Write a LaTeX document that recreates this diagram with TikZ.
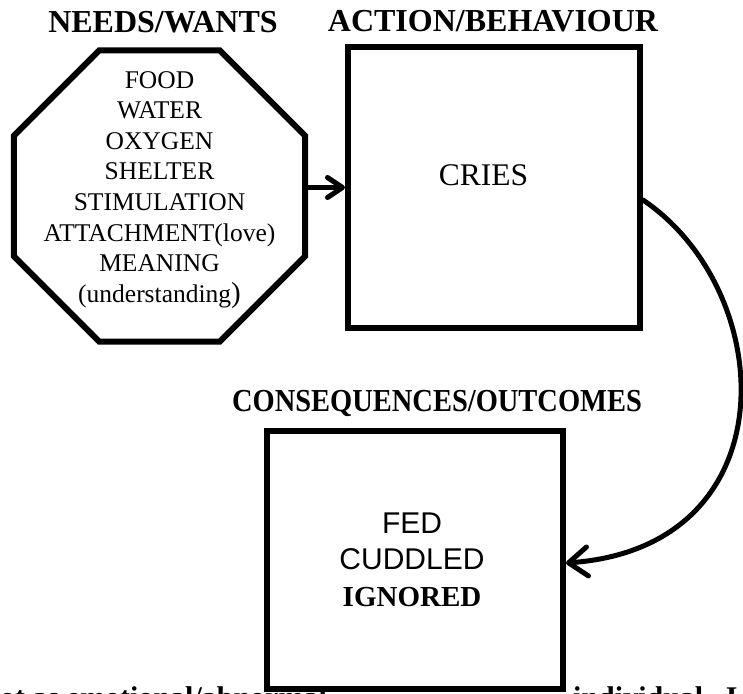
\documentclass[tikz,border=0pt]{standalone}
\usepackage{fontspec}
\usepackage{graphicx}
\setmainfont{Liberation Serif}
\newfontfamily\arialfont{Liberation Sans}
\usetikzlibrary{shapes.geometric,arrows.meta,calc}

\begin{document}
\begin{tikzpicture}[x=1pt,y=-1pt,
  heading/.style={font=\fontsize{32}{38}\selectfont\bfseries, inner sep=0pt, anchor=base},
  footline/.style={font=\fontsize{30}{36}\selectfont\bfseries, inner sep=0pt, anchor=base west},
  panel/.style={draw, line width=6pt, fill=white, inner sep=0pt},
  linksmall/.style={line width=5pt, line cap=round,
    -{Straight Barb[length=15pt,width=20pt,round]}},
  linkbig/.style={line width=5pt, line cap=round,
    -{Straight Barb[length=19pt,width=29pt,round]}},
]
\useasboundingbox[fill=white] (0,0) rectangle (743,693);

% running text along the bottom edge, mostly hidden by the outcome box
\begin{scope}
  \clip (0,0) rectangle (743,693);
  \node[footline] (footleft) at (-16.7,707) {not as emotional/abnormal};
  \node[footline] (footright) at (573,707) {individual.\ \ I};
\end{scope}

% headings
\node[heading] (needshead) at (163,33) {NEEDS/WANTS};
\node[heading] (actionhead) at (493,32) {ACTION/BEHAVIOUR};
\node[heading] (outcomehead) at (437,411) {\scalebox{0.89}[1]{CONSEQUENCES/OUTCOMES}};

% needs octagon
\node[regular polygon, regular polygon sides=8, minimum size=315,
      draw, line width=6pt, fill=white] (needs) at (159.5,196) {};
\node[inner sep=0pt, anchor=north, align=center,
      font=\fontsize{25.5}{30.6}\selectfont] (needslist) at (159.5,71)
  {FOOD\\WATER\\OXYGEN\\SHELTER\\STIMULATION\\ATTACHMENT(love)\\MEANING\\(understanding{\fontsize{29}{30}\selectfont)}};

% action box
\node[panel, minimum width=292, minimum height=281] (action) at (494,187.5) {};
\node[inner sep=0pt, anchor=base, font=\fontsize{31.5}{36}\selectfont] (cries) at (483.5,185) {CRIES};

% outcome box
\node[panel, minimum width=296, minimum height=258] (outcome) at (415,560) {};
\node[inner sep=0pt, anchor=north, align=center,
      font=\fontsize{30}{36.5}\selectfont] (outcomelist) at (412,512.5)
  {{\arialfont FED}\\{\arialfont CUDDLED}\\{\fontsize{29}{36.5}\selectfont\bfseries IGNORED}};

% connectors
\draw[linksmall] (action.west -| needs.east) -- (action.west);
\draw[linkbig] ($(action.east)+(0,12.5)$) .. controls (779,292) and (790,547) .. ($(outcome.east)+(0,3)$);
\end{tikzpicture}
\end{document}
